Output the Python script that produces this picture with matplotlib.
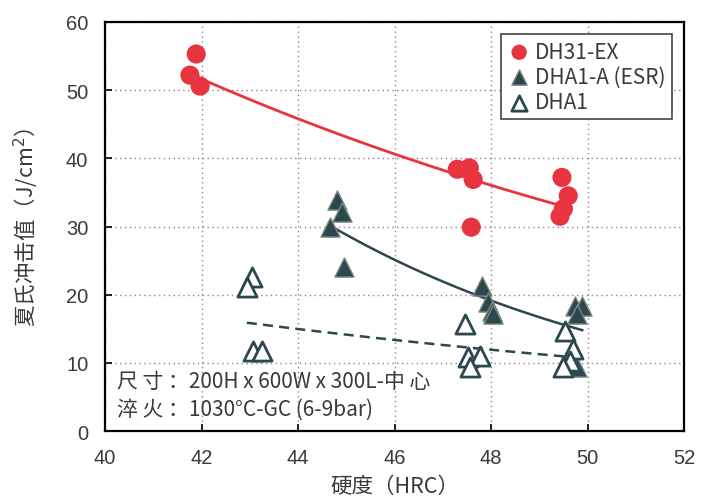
import matplotlib
matplotlib.use("Agg")
import matplotlib.pyplot as plt
import numpy as np

plt.rcParams['font.family'] = ['Noto Sans CJK SC', 'DejaVu Sans']

# DH31-EX (red circles)
dh31_hrc = [41.89, 41.76, 41.97, 47.30, 47.55, 47.63, 47.59, 49.47, 49.60, 49.50, 49.43]
dh31_imp = [55.3, 52.2, 50.6, 38.4, 38.6, 36.9, 29.9, 37.2, 34.5, 32.6, 31.5]

# DHA1-A (ESR) (filled triangles)
esr_hrc = [44.81, 44.91, 44.66, 44.95, 47.81, 47.94, 48.02, 48.04, 49.74, 49.89, 49.78, 49.78]
esr_imp = [33.9, 32.2, 29.9, 24.0, 21.3, 18.9, 17.6, 17.2, 18.4, 18.4, 17.2, 9.4]

# DHA1 (open triangles)
dha1_hrc = [43.05, 42.94, 43.07, 43.25, 47.46, 47.52, 47.77, 47.56, 49.53, 49.70, 49.64, 49.50]
dha1_imp = [22.6, 21.1, 11.7, 11.7, 15.7, 10.8, 11.0, 9.4, 14.6, 12.0, 10.3, 9.4]

RED = '#e8343f'
DARK = '#2c474d'
TXT = '#3a3a3a'


def exp_fit(x, y):
	# exponential trend line, like a spreadsheet "expon" trendline
	x = np.asarray(x)
	b, a = np.polyfit(x, np.log(y), 1)
	xs = np.linspace(x.min(), x.max(), 100)
	return xs, np.exp(a + b * xs)


fig = plt.figure(figsize=(7.03, 5.02), dpi=100)
ax = fig.add_axes([0.1494, 0.1394, 0.8236, 0.8148])

xs, ys = exp_fit(dh31_hrc, dh31_imp)
ax.plot(xs, ys, color=RED, lw=2, zorder=2)
xs, ys = exp_fit(esr_hrc, esr_imp)
ax.plot(xs, ys, color=DARK, lw=1.8, zorder=2)
xs, ys = exp_fit(dha1_hrc, dha1_imp)
ax.plot(xs, ys, color=DARK, lw=1.8, ls=(0, (4, 2.5)), zorder=2)

ax.scatter(dh31_hrc, dh31_imp, s=190, color=RED, edgecolor='none', zorder=3, label='DH31-EX')
ax.scatter(esr_hrc, esr_imp, s=190, marker='^', color=DARK, edgecolor='#7a8a80', linewidths=1,
		   zorder=3, label='DHA1-A (ESR)')
ax.scatter(dha1_hrc, dha1_imp, s=190, marker='^', facecolor='white', edgecolor=DARK, linewidths=2,
		   zorder=4, label='DHA1')

ax.set_xlim(40, 52)
ax.set_ylim(0, 60)
ax.set_xticks(range(40, 53, 2))
ax.set_yticks(range(0, 61, 10))
ax.grid(True, color='#888888', ls=(0, (1, 2.5)), lw=1)
ax.tick_params(direction='in', length=5, width=1.2, labelsize=14.5, labelcolor=TXT, pad=12)
for lab in ax.get_xticklabels() + ax.get_yticklabels():
	lab.set_family(['Liberation Sans', 'DejaVu Sans'])
for sp in ax.spines.values():
	sp.set_linewidth(1.6)

ax.set_xlabel('硬度（HRC）', fontsize=15.5, color=TXT, labelpad=6)
ax.set_ylabel('夏氏冲击值（J/cm$^2$）', fontsize=15.5, color=TXT, labelpad=18)

ax.text(40.25, 7.3, '尺 寸 ：200H x 600W x 300L-中 心', fontsize=15, color=TXT, va='center', zorder=5)
ax.text(40.25, 3.2, '淬 火 ：1030°C-GC (6-9bar)', fontsize=15, color=TXT, va='center', zorder=5)

leg = ax.legend(loc='upper right', fontsize=15, fancybox=False, framealpha=1, edgecolor='#444444',
				borderaxespad=0.6, handletextpad=0.2, borderpad=0.3, labelspacing=0.15,
				handlelength=1.1, markerscale=0.8)
leg.get_frame().set_linewidth(1.2)
for t in leg.get_texts():
	t.set_color(TXT)

fig.savefig('out.png', dpi=100)
